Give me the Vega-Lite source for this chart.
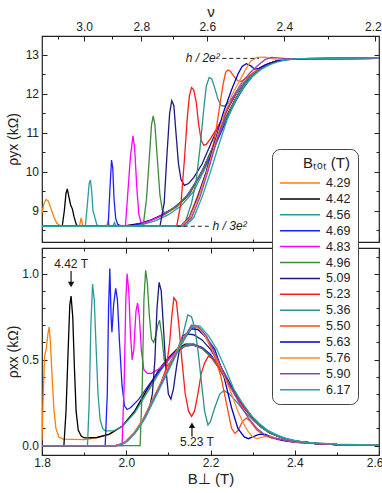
{
"$schema": "https://vega.github.io/schema/vega-lite/v6.json",
"padding": {"left": 5, "top": 3, "right": 0, "bottom": 3},
"background": "white",
"spacing": 2,
"datasets": {
"yx": [
{"t":"4.29","b":1.8,"v":8.95},{"t":"4.29","b":1.805,"v":9.2},{"t":"4.29","b":1.81,"v":9.29},{"t":"4.29","b":1.815,"v":9.25},{"t":"4.29","b":1.82,"v":9.1},{"t":"4.29","b":1.828,"v":8.85},{"t":"4.29","b":1.835,"v":8.68},{"t":"4.29","b":1.845,"v":8.61},{"t":"4.29","b":1.889,"v":8.61},{"t":"4.29","b":1.893,"v":8.82},{"t":"4.29","b":1.897,"v":8.61},{"t":"4.29","b":1.953,"v":8.61},{"t":"4.29","b":1.957,"v":8.72},{"t":"4.29","b":1.961,"v":8.6},{"t":"4.29","b":2.0,"v":8.62},{"t":"4.29","b":2.03,"v":8.66},{"t":"4.29","b":2.06,"v":8.76},{"t":"4.29","b":2.09,"v":8.9},{"t":"4.29","b":2.12,"v":9.1},{"t":"4.29","b":2.15,"v":9.42},{"t":"4.29","b":2.18,"v":9.98},{"t":"4.29","b":2.2,"v":10.45},{"t":"4.29","b":2.22,"v":10.95},{"t":"4.29","b":2.24,"v":11.42},{"t":"4.29","b":2.26,"v":11.85},{"t":"4.29","b":2.28,"v":12.2},{"t":"4.29","b":2.3,"v":12.47},{"t":"4.29","b":2.32,"v":12.65},{"t":"4.29","b":2.34,"v":12.77},{"t":"4.29","b":2.36,"v":12.84},{"t":"4.29","b":2.38,"v":12.88},{"t":"4.29","b":2.42,"v":12.9},{"t":"4.29","b":2.5,"v":12.9},{"t":"4.29","b":2.6,"v":12.91},
{"t":"4.42","b":1.8,"v":8.6},{"t":"4.42","b":1.848,"v":8.6},{"t":"4.42","b":1.853,"v":9.0},{"t":"4.42","b":1.857,"v":9.45},{"t":"4.42","b":1.86,"v":9.56},{"t":"4.42","b":1.864,"v":9.35},{"t":"4.42","b":1.868,"v":9.15},{"t":"4.42","b":1.872,"v":9.05},{"t":"4.42","b":1.876,"v":8.85},{"t":"4.42","b":1.882,"v":8.63},{"t":"4.42","b":1.89,"v":8.6},{"t":"4.42","b":1.95,"v":8.6},{"t":"4.42","b":2.0,"v":8.62},{"t":"4.42","b":2.03,"v":8.67},{"t":"4.42","b":2.06,"v":8.77},{"t":"4.42","b":2.09,"v":8.92},{"t":"4.42","b":2.12,"v":9.12},{"t":"4.42","b":2.15,"v":9.45},{"t":"4.42","b":2.18,"v":10.02},{"t":"4.42","b":2.2,"v":10.5},{"t":"4.42","b":2.22,"v":11.0},{"t":"4.42","b":2.24,"v":11.47},{"t":"4.42","b":2.26,"v":11.88},{"t":"4.42","b":2.28,"v":12.22},{"t":"4.42","b":2.3,"v":12.48},{"t":"4.42","b":2.32,"v":12.66},{"t":"4.42","b":2.34,"v":12.78},{"t":"4.42","b":2.36,"v":12.85},{"t":"4.42","b":2.38,"v":12.88},{"t":"4.42","b":2.42,"v":12.9},{"t":"4.42","b":2.5,"v":12.9},{"t":"4.42","b":2.6,"v":12.91},
{"t":"4.56","b":1.8,"v":8.6},{"t":"4.56","b":1.903,"v":8.6},{"t":"4.56","b":1.908,"v":9.2},{"t":"4.56","b":1.912,"v":9.7},{"t":"4.56","b":1.915,"v":9.79},{"t":"4.56","b":1.918,"v":9.5},{"t":"4.56","b":1.921,"v":9.0},{"t":"4.56","b":1.925,"v":8.85},{"t":"4.56","b":1.93,"v":8.65},{"t":"4.56","b":1.935,"v":8.6},{"t":"4.56","b":1.968,"v":8.6},{"t":"4.56","b":1.972,"v":8.7},{"t":"4.56","b":1.976,"v":8.6},{"t":"4.56","b":2.0,"v":8.6},{"t":"4.56","b":2.04,"v":8.65},{"t":"4.56","b":2.07,"v":8.75},{"t":"4.56","b":2.1,"v":8.9},{"t":"4.56","b":2.13,"v":9.12},{"t":"4.56","b":2.16,"v":9.5},{"t":"4.56","b":2.19,"v":10.15},{"t":"4.56","b":2.21,"v":10.65},{"t":"4.56","b":2.23,"v":11.15},{"t":"4.56","b":2.25,"v":11.62},{"t":"4.56","b":2.27,"v":12.02},{"t":"4.56","b":2.29,"v":12.33},{"t":"4.56","b":2.31,"v":12.57},{"t":"4.56","b":2.33,"v":12.72},{"t":"4.56","b":2.35,"v":12.81},{"t":"4.56","b":2.37,"v":12.86},{"t":"4.56","b":2.4,"v":12.89},{"t":"4.56","b":2.5,"v":12.9},{"t":"4.56","b":2.6,"v":12.91},
{"t":"4.69","b":1.8,"v":8.6},{"t":"4.69","b":1.957,"v":8.6},{"t":"4.69","b":1.961,"v":9.5},{"t":"4.69","b":1.965,"v":10.3},{"t":"4.69","b":1.968,"v":10.1},{"t":"4.69","b":1.971,"v":9.3},{"t":"4.69","b":1.975,"v":8.8},{"t":"4.69","b":1.98,"v":8.65},{"t":"4.69","b":1.99,"v":8.6},{"t":"4.69","b":2.02,"v":8.63},{"t":"4.69","b":2.05,"v":8.72},{"t":"4.69","b":2.08,"v":8.86},{"t":"4.69","b":2.11,"v":9.05},{"t":"4.69","b":2.14,"v":9.32},{"t":"4.69","b":2.17,"v":9.82},{"t":"4.69","b":2.2,"v":10.4},{"t":"4.69","b":2.22,"v":10.9},{"t":"4.69","b":2.24,"v":11.38},{"t":"4.69","b":2.26,"v":11.82},{"t":"4.69","b":2.28,"v":12.18},{"t":"4.69","b":2.3,"v":12.46},{"t":"4.69","b":2.32,"v":12.64},{"t":"4.69","b":2.34,"v":12.76},{"t":"4.69","b":2.36,"v":12.84},{"t":"4.69","b":2.38,"v":12.88},{"t":"4.69","b":2.42,"v":12.9},{"t":"4.69","b":2.6,"v":12.91},
{"t":"4.83","b":1.8,"v":8.6},{"t":"4.83","b":1.998,"v":8.6},{"t":"4.83","b":2.004,"v":9.5},{"t":"4.83","b":2.01,"v":10.4},{"t":"4.83","b":2.016,"v":10.92},{"t":"4.83","b":2.02,"v":10.6},{"t":"4.83","b":2.025,"v":9.6},{"t":"4.83","b":2.03,"v":8.9},{"t":"4.83","b":2.035,"v":8.7},{"t":"4.83","b":2.04,"v":8.68},{"t":"4.83","b":2.06,"v":8.76},{"t":"4.83","b":2.09,"v":8.9},{"t":"4.83","b":2.12,"v":9.12},{"t":"4.83","b":2.15,"v":9.46},{"t":"4.83","b":2.18,"v":10.0},{"t":"4.83","b":2.2,"v":10.47},{"t":"4.83","b":2.22,"v":10.97},{"t":"4.83","b":2.24,"v":11.44},{"t":"4.83","b":2.26,"v":11.86},{"t":"4.83","b":2.28,"v":12.21},{"t":"4.83","b":2.3,"v":12.47},{"t":"4.83","b":2.32,"v":12.65},{"t":"4.83","b":2.34,"v":12.77},{"t":"4.83","b":2.36,"v":12.84},{"t":"4.83","b":2.38,"v":12.88},{"t":"4.83","b":2.42,"v":12.9},{"t":"4.83","b":2.6,"v":12.91},
{"t":"4.96","b":1.8,"v":8.6},{"t":"4.96","b":2.04,"v":8.6},{"t":"4.96","b":2.048,"v":9.3},{"t":"4.96","b":2.055,"v":10.4},{"t":"4.96","b":2.06,"v":11.2},{"t":"4.96","b":2.064,"v":11.43},{"t":"4.96","b":2.068,"v":11.2},{"t":"4.96","b":2.074,"v":10.3},{"t":"4.96","b":2.08,"v":9.4},{"t":"4.96","b":2.086,"v":9.0},{"t":"4.96","b":2.09,"v":8.95},{"t":"4.96","b":2.1,"v":8.98},{"t":"4.96","b":2.12,"v":9.12},{"t":"4.96","b":2.15,"v":9.46},{"t":"4.96","b":2.18,"v":10.02},{"t":"4.96","b":2.2,"v":10.48},{"t":"4.96","b":2.22,"v":10.98},{"t":"4.96","b":2.24,"v":11.45},{"t":"4.96","b":2.26,"v":11.87},{"t":"4.96","b":2.28,"v":12.21},{"t":"4.96","b":2.3,"v":12.47},{"t":"4.96","b":2.32,"v":12.65},{"t":"4.96","b":2.34,"v":12.77},{"t":"4.96","b":2.36,"v":12.84},{"t":"4.96","b":2.38,"v":12.88},{"t":"4.96","b":2.42,"v":12.9},{"t":"4.96","b":2.6,"v":12.91},
{"t":"5.09","b":1.8,"v":8.6},{"t":"5.09","b":2.08,"v":8.6},{"t":"5.09","b":2.09,"v":9.2},{"t":"5.09","b":2.097,"v":10.5},{"t":"5.09","b":2.103,"v":11.5},{"t":"5.09","b":2.108,"v":11.82},{"t":"5.09","b":2.113,"v":11.7},{"t":"5.09","b":2.118,"v":11.0},{"t":"5.09","b":2.124,"v":10.2},{"t":"5.09","b":2.13,"v":9.8},{"t":"5.09","b":2.138,"v":9.65},{"t":"5.09","b":2.148,"v":9.7},{"t":"5.09","b":2.16,"v":9.85},{"t":"5.09","b":2.18,"v":10.2},{"t":"5.09","b":2.2,"v":10.7},{"t":"5.09","b":2.22,"v":11.2},{"t":"5.09","b":2.24,"v":11.6},{"t":"5.09","b":2.26,"v":11.98},{"t":"5.09","b":2.28,"v":12.28},{"t":"5.09","b":2.3,"v":12.5},{"t":"5.09","b":2.32,"v":12.67},{"t":"5.09","b":2.34,"v":12.78},{"t":"5.09","b":2.36,"v":12.85},{"t":"5.09","b":2.38,"v":12.88},{"t":"5.09","b":2.42,"v":12.9},{"t":"5.09","b":2.6,"v":12.91},
{"t":"5.23","b":1.8,"v":8.6},{"t":"5.23","b":2.12,"v":8.62},{"t":"5.23","b":2.13,"v":9.2},{"t":"5.23","b":2.138,"v":10.3},{"t":"5.23","b":2.145,"v":11.4},{"t":"5.23","b":2.15,"v":11.95},{"t":"5.23","b":2.155,"v":12.16},{"t":"5.23","b":2.16,"v":12.1},{"t":"5.23","b":2.166,"v":11.8},{"t":"5.23","b":2.172,"v":11.2},{"t":"5.23","b":2.178,"v":10.8},{"t":"5.23","b":2.184,"v":10.68},{"t":"5.23","b":2.19,"v":10.7},{"t":"5.23","b":2.2,"v":10.85},{"t":"5.23","b":2.22,"v":11.2},{"t":"5.23","b":2.24,"v":11.62},{"t":"5.23","b":2.26,"v":11.99},{"t":"5.23","b":2.28,"v":12.29},{"t":"5.23","b":2.3,"v":12.51},{"t":"5.23","b":2.32,"v":12.67},{"t":"5.23","b":2.34,"v":12.78},{"t":"5.23","b":2.36,"v":12.85},{"t":"5.23","b":2.38,"v":12.88},{"t":"5.23","b":2.42,"v":12.9},{"t":"5.23","b":2.6,"v":12.91},
{"t":"5.36","b":1.8,"v":8.6},{"t":"5.36","b":2.13,"v":8.62},{"t":"5.36","b":2.14,"v":8.7},{"t":"5.36","b":2.155,"v":9.2},{"t":"5.36","b":2.165,"v":9.7},{"t":"5.36","b":2.175,"v":10.6},{"t":"5.36","b":2.183,"v":11.5},{"t":"5.36","b":2.19,"v":12.2},{"t":"5.36","b":2.197,"v":12.42},{"t":"5.36","b":2.203,"v":12.38},{"t":"5.36","b":2.21,"v":12.15},{"t":"5.36","b":2.218,"v":11.85},{"t":"5.36","b":2.225,"v":11.7},{"t":"5.36","b":2.233,"v":11.68},{"t":"5.36","b":2.24,"v":11.75},{"t":"5.36","b":2.26,"v":12.0},{"t":"5.36","b":2.28,"v":12.28},{"t":"5.36","b":2.3,"v":12.5},{"t":"5.36","b":2.32,"v":12.67},{"t":"5.36","b":2.34,"v":12.78},{"t":"5.36","b":2.36,"v":12.85},{"t":"5.36","b":2.38,"v":12.88},{"t":"5.36","b":2.42,"v":12.9},{"t":"5.36","b":2.6,"v":12.91},
{"t":"5.50","b":1.8,"v":8.6},{"t":"5.50","b":2.13,"v":8.62},{"t":"5.50","b":2.15,"v":8.85},{"t":"5.50","b":2.17,"v":9.4},{"t":"5.50","b":2.19,"v":10.0},{"t":"5.50","b":2.2,"v":10.35},{"t":"5.50","b":2.213,"v":11.05},{"t":"5.50","b":2.222,"v":11.7},{"t":"5.50","b":2.23,"v":12.25},{"t":"5.50","b":2.236,"v":12.55},{"t":"5.50","b":2.241,"v":12.61},{"t":"5.50","b":2.247,"v":12.58},{"t":"5.50","b":2.255,"v":12.45},{"t":"5.50","b":2.265,"v":12.33},{"t":"5.50","b":2.273,"v":12.32},{"t":"5.50","b":2.285,"v":12.4},{"t":"5.50","b":2.3,"v":12.53},{"t":"5.50","b":2.32,"v":12.68},{"t":"5.50","b":2.34,"v":12.78},{"t":"5.50","b":2.36,"v":12.85},{"t":"5.50","b":2.38,"v":12.88},{"t":"5.50","b":2.42,"v":12.9},{"t":"5.50","b":2.6,"v":12.91},
{"t":"5.63","b":1.8,"v":8.6},{"t":"5.63","b":2.13,"v":8.61},{"t":"5.63","b":2.15,"v":8.82},{"t":"5.63","b":2.17,"v":9.35},{"t":"5.63","b":2.19,"v":10.0},{"t":"5.63","b":2.21,"v":10.75},{"t":"5.63","b":2.23,"v":11.5},{"t":"5.63","b":2.25,"v":12.1},{"t":"5.63","b":2.265,"v":12.5},{"t":"5.63","b":2.275,"v":12.7},{"t":"5.63","b":2.285,"v":12.77},{"t":"5.63","b":2.295,"v":12.72},{"t":"5.63","b":2.305,"v":12.63},{"t":"5.63","b":2.315,"v":12.65},{"t":"5.63","b":2.33,"v":12.74},{"t":"5.63","b":2.35,"v":12.82},{"t":"5.63","b":2.37,"v":12.87},{"t":"5.63","b":2.4,"v":12.89},{"t":"5.63","b":2.45,"v":12.9},{"t":"5.63","b":2.6,"v":12.91},
{"t":"5.76","b":1.8,"v":8.6},{"t":"5.76","b":2.13,"v":8.61},{"t":"5.76","b":2.15,"v":8.8},{"t":"5.76","b":2.17,"v":9.3},{"t":"5.76","b":2.19,"v":9.95},{"t":"5.76","b":2.21,"v":10.7},{"t":"5.76","b":2.23,"v":11.4},{"t":"5.76","b":2.25,"v":11.95},{"t":"5.76","b":2.27,"v":12.35},{"t":"5.76","b":2.285,"v":12.65},{"t":"5.76","b":2.296,"v":12.84},{"t":"5.76","b":2.31,"v":12.93},{"t":"5.76","b":2.33,"v":12.94},{"t":"5.76","b":2.345,"v":12.9},{"t":"5.76","b":2.36,"v":12.88},{"t":"5.76","b":2.4,"v":12.9},{"t":"5.76","b":2.5,"v":12.9},{"t":"5.76","b":2.6,"v":12.91},
{"t":"5.90","b":1.8,"v":8.6},{"t":"5.90","b":2.135,"v":8.61},{"t":"5.90","b":2.155,"v":8.82},{"t":"5.90","b":2.175,"v":9.35},{"t":"5.90","b":2.195,"v":10.05},{"t":"5.90","b":2.215,"v":10.8},{"t":"5.90","b":2.235,"v":11.45},{"t":"5.90","b":2.255,"v":11.95},{"t":"5.90","b":2.275,"v":12.3},{"t":"5.90","b":2.295,"v":12.55},{"t":"5.90","b":2.315,"v":12.75},{"t":"5.90","b":2.33,"v":12.88},{"t":"5.90","b":2.345,"v":12.93},{"t":"5.90","b":2.36,"v":12.92},{"t":"5.90","b":2.38,"v":12.9},{"t":"5.90","b":2.45,"v":12.9},{"t":"5.90","b":2.6,"v":12.91},
{"t":"6.17","b":1.8,"v":8.6},{"t":"6.17","b":2.14,"v":8.61},{"t":"6.17","b":2.16,"v":8.82},{"t":"6.17","b":2.18,"v":9.35},{"t":"6.17","b":2.2,"v":10.0},{"t":"6.17","b":2.22,"v":10.7},{"t":"6.17","b":2.24,"v":11.35},{"t":"6.17","b":2.26,"v":11.85},{"t":"6.17","b":2.28,"v":12.2},{"t":"6.17","b":2.3,"v":12.45},{"t":"6.17","b":2.32,"v":12.62},{"t":"6.17","b":2.34,"v":12.74},{"t":"6.17","b":2.36,"v":12.82},{"t":"6.17","b":2.38,"v":12.87},{"t":"6.17","b":2.41,"v":12.9},{"t":"6.17","b":2.5,"v":12.91},{"t":"6.17","b":2.6,"v":12.92}
],
"xx": [
{"t":"4.29","b":1.8,"v":0.03},{"t":"4.29","b":1.803,"v":0.3},{"t":"4.29","b":1.806,"v":0.52},{"t":"4.29","b":1.81,"v":0.56},{"t":"4.29","b":1.814,"v":0.65},{"t":"4.29","b":1.817,"v":0.69},{"t":"4.29","b":1.82,"v":0.6},{"t":"4.29","b":1.824,"v":0.4},{"t":"4.29","b":1.828,"v":0.22},{"t":"4.29","b":1.833,"v":0.1},{"t":"4.29","b":1.84,"v":0.05},{"t":"4.29","b":1.85,"v":0.037},{"t":"4.29","b":1.9,"v":0.035},{"t":"4.29","b":1.93,"v":0.045},{"t":"4.29","b":1.96,"v":0.065},{"t":"4.29","b":1.99,"v":0.11},{"t":"4.29","b":2.02,"v":0.2},{"t":"4.29","b":2.05,"v":0.32},{"t":"4.29","b":2.08,"v":0.44},{"t":"4.29","b":2.1,"v":0.5},{"t":"4.29","b":2.12,"v":0.55},{"t":"4.29","b":2.14,"v":0.58},{"t":"4.29","b":2.16,"v":0.585},{"t":"4.29","b":2.18,"v":0.565},{"t":"4.29","b":2.2,"v":0.52},{"t":"4.29","b":2.22,"v":0.45},{"t":"4.29","b":2.24,"v":0.37},{"t":"4.29","b":2.26,"v":0.29},{"t":"4.29","b":2.28,"v":0.22},{"t":"4.29","b":2.3,"v":0.16},{"t":"4.29","b":2.32,"v":0.11},{"t":"4.29","b":2.34,"v":0.075},{"t":"4.29","b":2.37,"v":0.045},{"t":"4.29","b":2.4,"v":0.025},{"t":"4.29","b":2.45,"v":0.012},{"t":"4.29","b":2.5,"v":0.006},{"t":"4.29","b":2.6,"v":0.003},
{"t":"4.42","b":1.8,"v":0.0},{"t":"4.42","b":1.852,"v":0.0},{"t":"4.42","b":1.857,"v":0.2},{"t":"4.42","b":1.862,"v":0.55},{"t":"4.42","b":1.866,"v":0.82},{"t":"4.42","b":1.869,"v":0.87},{"t":"4.42","b":1.873,"v":0.75},{"t":"4.42","b":1.877,"v":0.45},{"t":"4.42","b":1.881,"v":0.2},{"t":"4.42","b":1.886,"v":0.09},{"t":"4.42","b":1.893,"v":0.055},{"t":"4.42","b":1.9,"v":0.045},{"t":"4.42","b":1.93,"v":0.047},{"t":"4.42","b":1.96,"v":0.067},{"t":"4.42","b":1.99,"v":0.112},{"t":"4.42","b":2.02,"v":0.2},{"t":"4.42","b":2.05,"v":0.33},{"t":"4.42","b":2.08,"v":0.45},{"t":"4.42","b":2.1,"v":0.51},{"t":"4.42","b":2.12,"v":0.56},{"t":"4.42","b":2.14,"v":0.59},{"t":"4.42","b":2.16,"v":0.59},{"t":"4.42","b":2.18,"v":0.57},{"t":"4.42","b":2.2,"v":0.525},{"t":"4.42","b":2.22,"v":0.455},{"t":"4.42","b":2.24,"v":0.375},{"t":"4.42","b":2.26,"v":0.295},{"t":"4.42","b":2.28,"v":0.225},{"t":"4.42","b":2.3,"v":0.162},{"t":"4.42","b":2.32,"v":0.112},{"t":"4.42","b":2.34,"v":0.076},{"t":"4.42","b":2.37,"v":0.045},{"t":"4.42","b":2.4,"v":0.025},{"t":"4.42","b":2.45,"v":0.012},{"t":"4.42","b":2.5,"v":0.006},{"t":"4.42","b":2.6,"v":0.003},
{"t":"4.56","b":1.8,"v":0.0},{"t":"4.56","b":1.908,"v":0.0},{"t":"4.56","b":1.912,"v":0.25},{"t":"4.56","b":1.916,"v":0.7},{"t":"4.56","b":1.92,"v":0.94},{"t":"4.56","b":1.924,"v":0.85},{"t":"4.56","b":1.928,"v":0.6},{"t":"4.56","b":1.933,"v":0.3},{"t":"4.56","b":1.938,"v":0.15},{"t":"4.56","b":1.944,"v":0.1},{"t":"4.56","b":1.95,"v":0.085},{"t":"4.56","b":1.97,"v":0.085},{"t":"4.56","b":1.99,"v":0.11},{"t":"4.56","b":2.02,"v":0.19},{"t":"4.56","b":2.05,"v":0.31},{"t":"4.56","b":2.08,"v":0.43},{"t":"4.56","b":2.1,"v":0.5},{"t":"4.56","b":2.12,"v":0.555},{"t":"4.56","b":2.14,"v":0.585},{"t":"4.56","b":2.16,"v":0.59},{"t":"4.56","b":2.18,"v":0.57},{"t":"4.56","b":2.2,"v":0.53},{"t":"4.56","b":2.22,"v":0.46},{"t":"4.56","b":2.24,"v":0.38},{"t":"4.56","b":2.26,"v":0.3},{"t":"4.56","b":2.28,"v":0.23},{"t":"4.56","b":2.3,"v":0.165},{"t":"4.56","b":2.32,"v":0.115},{"t":"4.56","b":2.34,"v":0.08},{"t":"4.56","b":2.37,"v":0.047},{"t":"4.56","b":2.4,"v":0.027},{"t":"4.56","b":2.45,"v":0.012},{"t":"4.56","b":2.5,"v":0.006},{"t":"4.56","b":2.6,"v":0.003},
{"t":"4.69","b":1.8,"v":0.0},{"t":"4.69","b":1.95,"v":0.0},{"t":"4.69","b":1.955,"v":0.3},{"t":"4.69","b":1.958,"v":0.8},{"t":"4.69","b":1.961,"v":1.03},{"t":"4.69","b":1.964,"v":0.75},{"t":"4.69","b":1.966,"v":0.66},{"t":"4.69","b":1.97,"v":0.82},{"t":"4.69","b":1.975,"v":0.915},{"t":"4.69","b":1.979,"v":0.85},{"t":"4.69","b":1.984,"v":0.6},{"t":"4.69","b":1.99,"v":0.35},{"t":"4.69","b":1.996,"v":0.23},{"t":"4.69","b":2.002,"v":0.21},{"t":"4.69","b":2.01,"v":0.22},{"t":"4.69","b":2.03,"v":0.27},{"t":"4.69","b":2.05,"v":0.34},{"t":"4.69","b":2.08,"v":0.44},{"t":"4.69","b":2.1,"v":0.5},{"t":"4.69","b":2.12,"v":0.55},{"t":"4.69","b":2.14,"v":0.58},{"t":"4.69","b":2.16,"v":0.585},{"t":"4.69","b":2.18,"v":0.57},{"t":"4.69","b":2.2,"v":0.53},{"t":"4.69","b":2.22,"v":0.46},{"t":"4.69","b":2.24,"v":0.38},{"t":"4.69","b":2.26,"v":0.3},{"t":"4.69","b":2.28,"v":0.225},{"t":"4.69","b":2.3,"v":0.16},{"t":"4.69","b":2.32,"v":0.11},{"t":"4.69","b":2.34,"v":0.075},{"t":"4.69","b":2.37,"v":0.045},{"t":"4.69","b":2.4,"v":0.025},{"t":"4.69","b":2.45,"v":0.012},{"t":"4.69","b":2.5,"v":0.006},{"t":"4.69","b":2.6,"v":0.003},
{"t":"4.83","b":1.8,"v":0.0},{"t":"4.83","b":1.99,"v":0.0},{"t":"4.83","b":1.995,"v":0.35},{"t":"4.83","b":1.999,"v":0.85},{"t":"4.83","b":2.002,"v":1.0},{"t":"4.83","b":2.006,"v":0.9},{"t":"4.83","b":2.01,"v":0.65},{"t":"4.83","b":2.014,"v":0.5},{"t":"4.83","b":2.018,"v":0.56},{"t":"4.83","b":2.023,"v":0.78},{"t":"4.83","b":2.027,"v":0.83},{"t":"4.83","b":2.031,"v":0.75},{"t":"4.83","b":2.036,"v":0.55},{"t":"4.83","b":2.042,"v":0.44},{"t":"4.83","b":2.05,"v":0.42},{"t":"4.83","b":2.06,"v":0.42},{"t":"4.83","b":2.08,"v":0.45},{"t":"4.83","b":2.1,"v":0.5},{"t":"4.83","b":2.12,"v":0.55},{"t":"4.83","b":2.14,"v":0.58},{"t":"4.83","b":2.16,"v":0.585},{"t":"4.83","b":2.18,"v":0.565},{"t":"4.83","b":2.2,"v":0.52},{"t":"4.83","b":2.22,"v":0.45},{"t":"4.83","b":2.24,"v":0.37},{"t":"4.83","b":2.26,"v":0.29},{"t":"4.83","b":2.28,"v":0.22},{"t":"4.83","b":2.3,"v":0.16},{"t":"4.83","b":2.32,"v":0.11},{"t":"4.83","b":2.34,"v":0.075},{"t":"4.83","b":2.37,"v":0.045},{"t":"4.83","b":2.4,"v":0.025},{"t":"4.83","b":2.45,"v":0.012},{"t":"4.83","b":2.5,"v":0.006},{"t":"4.83","b":2.6,"v":0.003},
{"t":"4.96","b":1.8,"v":0.0},{"t":"4.96","b":2.033,"v":0.0},{"t":"4.96","b":2.038,"v":0.35},{"t":"4.96","b":2.042,"v":0.85},{"t":"4.96","b":2.046,"v":1.02},{"t":"4.96","b":2.05,"v":0.95},{"t":"4.96","b":2.055,"v":0.75},{"t":"4.96","b":2.06,"v":0.62},{"t":"4.96","b":2.065,"v":0.6},{"t":"4.96","b":2.07,"v":0.64},{"t":"4.96","b":2.075,"v":0.7},{"t":"4.96","b":2.079,"v":0.73},{"t":"4.96","b":2.084,"v":0.65},{"t":"4.96","b":2.09,"v":0.5},{"t":"4.96","b":2.096,"v":0.46},{"t":"4.96","b":2.1,"v":0.47},{"t":"4.96","b":2.12,"v":0.545},{"t":"4.96","b":2.14,"v":0.58},{"t":"4.96","b":2.16,"v":0.585},{"t":"4.96","b":2.18,"v":0.565},{"t":"4.96","b":2.2,"v":0.52},{"t":"4.96","b":2.22,"v":0.45},{"t":"4.96","b":2.24,"v":0.37},{"t":"4.96","b":2.26,"v":0.29},{"t":"4.96","b":2.28,"v":0.22},{"t":"4.96","b":2.3,"v":0.16},{"t":"4.96","b":2.32,"v":0.11},{"t":"4.96","b":2.34,"v":0.075},{"t":"4.96","b":2.37,"v":0.045},{"t":"4.96","b":2.4,"v":0.025},{"t":"4.96","b":2.45,"v":0.012},{"t":"4.96","b":2.5,"v":0.006},{"t":"4.96","b":2.6,"v":0.003},
{"t":"5.09","b":1.8,"v":0.0},{"t":"5.09","b":1.975,"v":0.0},{"t":"5.09","b":1.99,"v":0.01},{"t":"5.09","b":2.0,"v":0.025},{"t":"5.09","b":2.02,"v":0.075},{"t":"5.09","b":2.04,"v":0.15},{"t":"5.09","b":2.055,"v":0.22},{"t":"5.09","b":2.062,"v":0.3},{"t":"5.09","b":2.068,"v":0.5},{"t":"5.09","b":2.073,"v":0.8},{"t":"5.09","b":2.078,"v":0.95},{"t":"5.09","b":2.083,"v":0.9},{"t":"5.09","b":2.088,"v":0.7},{"t":"5.09","b":2.094,"v":0.45},{"t":"5.09","b":2.1,"v":0.3},{"t":"5.09","b":2.106,"v":0.27},{"t":"5.09","b":2.112,"v":0.33},{"t":"5.09","b":2.12,"v":0.47},{"t":"5.09","b":2.128,"v":0.58},{"t":"5.09","b":2.135,"v":0.64},{"t":"5.09","b":2.143,"v":0.65},{"t":"5.09","b":2.16,"v":0.645},{"t":"5.09","b":2.18,"v":0.615},{"t":"5.09","b":2.2,"v":0.56},{"t":"5.09","b":2.22,"v":0.48},{"t":"5.09","b":2.24,"v":0.39},{"t":"5.09","b":2.26,"v":0.3},{"t":"5.09","b":2.28,"v":0.22},{"t":"5.09","b":2.3,"v":0.16},{"t":"5.09","b":2.32,"v":0.11},{"t":"5.09","b":2.34,"v":0.075},{"t":"5.09","b":2.37,"v":0.045},{"t":"5.09","b":2.4,"v":0.027},{"t":"5.09","b":2.45,"v":0.012},{"t":"5.09","b":2.5,"v":0.006},{"t":"5.09","b":2.6,"v":0.003},
{"t":"5.23","b":1.8,"v":0.0},{"t":"5.23","b":1.975,"v":0.0},{"t":"5.23","b":1.99,"v":0.01},{"t":"5.23","b":2.0,"v":0.025},{"t":"5.23","b":2.02,"v":0.075},{"t":"5.23","b":2.04,"v":0.15},{"t":"5.23","b":2.06,"v":0.25},{"t":"5.23","b":2.08,"v":0.35},{"t":"5.23","b":2.095,"v":0.45},{"t":"5.23","b":2.103,"v":0.6},{"t":"5.23","b":2.108,"v":0.75},{"t":"5.23","b":2.113,"v":0.86},{"t":"5.23","b":2.119,"v":0.84},{"t":"5.23","b":2.125,"v":0.7},{"t":"5.23","b":2.132,"v":0.5},{"t":"5.23","b":2.14,"v":0.3},{"t":"5.23","b":2.148,"v":0.2},{"t":"5.23","b":2.155,"v":0.17},{"t":"5.23","b":2.162,"v":0.2},{"t":"5.23","b":2.17,"v":0.3},{"t":"5.23","b":2.178,"v":0.42},{"t":"5.23","b":2.186,"v":0.48},{"t":"5.23","b":2.195,"v":0.52},{"t":"5.23","b":2.21,"v":0.5},{"t":"5.23","b":2.225,"v":0.44},{"t":"5.23","b":2.24,"v":0.37},{"t":"5.23","b":2.26,"v":0.29},{"t":"5.23","b":2.28,"v":0.22},{"t":"5.23","b":2.3,"v":0.16},{"t":"5.23","b":2.32,"v":0.11},{"t":"5.23","b":2.34,"v":0.075},{"t":"5.23","b":2.37,"v":0.045},{"t":"5.23","b":2.4,"v":0.026},{"t":"5.23","b":2.45,"v":0.012},{"t":"5.23","b":2.5,"v":0.006},{"t":"5.23","b":2.6,"v":0.003},
{"t":"5.36","b":1.8,"v":0.0},{"t":"5.36","b":1.975,"v":0.0},{"t":"5.36","b":1.99,"v":0.01},{"t":"5.36","b":2.0,"v":0.025},{"t":"5.36","b":2.02,"v":0.075},{"t":"5.36","b":2.04,"v":0.15},{"t":"5.36","b":2.06,"v":0.25},{"t":"5.36","b":2.08,"v":0.35},{"t":"5.36","b":2.1,"v":0.45},{"t":"5.36","b":2.12,"v":0.55},{"t":"5.36","b":2.135,"v":0.65},{"t":"5.36","b":2.146,"v":0.76},{"t":"5.36","b":2.155,"v":0.75},{"t":"5.36","b":2.163,"v":0.68},{"t":"5.36","b":2.17,"v":0.56},{"t":"5.36","b":2.178,"v":0.38},{"t":"5.36","b":2.186,"v":0.2},{"t":"5.36","b":2.194,"v":0.12},{"t":"5.36","b":2.2,"v":0.14},{"t":"5.36","b":2.21,"v":0.22},{"t":"5.36","b":2.222,"v":0.3},{"t":"5.36","b":2.232,"v":0.32},{"t":"5.36","b":2.245,"v":0.3},{"t":"5.36","b":2.26,"v":0.26},{"t":"5.36","b":2.28,"v":0.2},{"t":"5.36","b":2.3,"v":0.15},{"t":"5.36","b":2.32,"v":0.105},{"t":"5.36","b":2.34,"v":0.075},{"t":"5.36","b":2.37,"v":0.045},{"t":"5.36","b":2.4,"v":0.027},{"t":"5.36","b":2.45,"v":0.012},{"t":"5.36","b":2.5,"v":0.006},{"t":"5.36","b":2.6,"v":0.003},
{"t":"5.50","b":1.8,"v":0.0},{"t":"5.50","b":1.975,"v":0.0},{"t":"5.50","b":1.99,"v":0.01},{"t":"5.50","b":2.0,"v":0.025},{"t":"5.50","b":2.02,"v":0.078},{"t":"5.50","b":2.04,"v":0.155},{"t":"5.50","b":2.06,"v":0.255},{"t":"5.50","b":2.08,"v":0.355},{"t":"5.50","b":2.1,"v":0.455},{"t":"5.50","b":2.12,"v":0.555},{"t":"5.50","b":2.14,"v":0.635},{"t":"5.50","b":2.155,"v":0.69},{"t":"5.50","b":2.17,"v":0.685},{"t":"5.50","b":2.19,"v":0.625},{"t":"5.50","b":2.21,"v":0.52},{"t":"5.50","b":2.225,"v":0.4},{"t":"5.50","b":2.24,"v":0.22},{"t":"5.50","b":2.25,"v":0.1},{"t":"5.50","b":2.258,"v":0.07},{"t":"5.50","b":2.266,"v":0.09},{"t":"5.50","b":2.276,"v":0.14},{"t":"5.50","b":2.285,"v":0.16},{"t":"5.50","b":2.295,"v":0.14},{"t":"5.50","b":2.31,"v":0.09},{"t":"5.50","b":2.33,"v":0.055},{"t":"5.50","b":2.36,"v":0.035},{"t":"5.50","b":2.4,"v":0.02},{"t":"5.50","b":2.5,"v":0.006},{"t":"5.50","b":2.6,"v":0.003},
{"t":"5.63","b":1.8,"v":0.0},{"t":"5.63","b":1.975,"v":0.0},{"t":"5.63","b":1.99,"v":0.01},{"t":"5.63","b":2.0,"v":0.025},{"t":"5.63","b":2.02,"v":0.072},{"t":"5.63","b":2.04,"v":0.145},{"t":"5.63","b":2.06,"v":0.245},{"t":"5.63","b":2.08,"v":0.345},{"t":"5.63","b":2.1,"v":0.445},{"t":"5.63","b":2.12,"v":0.545},{"t":"5.63","b":2.14,"v":0.63},{"t":"5.63","b":2.155,"v":0.68},{"t":"5.63","b":2.17,"v":0.675},{"t":"5.63","b":2.19,"v":0.63},{"t":"5.63","b":2.21,"v":0.56},{"t":"5.63","b":2.23,"v":0.42},{"t":"5.63","b":2.25,"v":0.22},{"t":"5.63","b":2.265,"v":0.1},{"t":"5.63","b":2.28,"v":0.05},{"t":"5.63","b":2.29,"v":0.04},{"t":"5.63","b":2.3,"v":0.05},{"t":"5.63","b":2.315,"v":0.065},{"t":"5.63","b":2.33,"v":0.065},{"t":"5.63","b":2.345,"v":0.05},{"t":"5.63","b":2.37,"v":0.03},{"t":"5.63","b":2.4,"v":0.018},{"t":"5.63","b":2.5,"v":0.006},{"t":"5.63","b":2.6,"v":0.003},
{"t":"5.76","b":1.8,"v":0.0},{"t":"5.76","b":1.975,"v":0.0},{"t":"5.76","b":1.99,"v":0.01},{"t":"5.76","b":2.0,"v":0.026},{"t":"5.76","b":2.02,"v":0.076},{"t":"5.76","b":2.04,"v":0.152},{"t":"5.76","b":2.06,"v":0.252},{"t":"5.76","b":2.08,"v":0.352},{"t":"5.76","b":2.1,"v":0.452},{"t":"5.76","b":2.12,"v":0.552},{"t":"5.76","b":2.14,"v":0.64},{"t":"5.76","b":2.155,"v":0.7},{"t":"5.76","b":2.17,"v":0.69},{"t":"5.76","b":2.19,"v":0.63},{"t":"5.76","b":2.21,"v":0.53},{"t":"5.76","b":2.23,"v":0.42},{"t":"5.76","b":2.25,"v":0.3},{"t":"5.76","b":2.265,"v":0.2},{"t":"5.76","b":2.28,"v":0.12},{"t":"5.76","b":2.29,"v":0.08},{"t":"5.76","b":2.3,"v":0.05},{"t":"5.76","b":2.31,"v":0.04},{"t":"5.76","b":2.325,"v":0.05},{"t":"5.76","b":2.34,"v":0.055},{"t":"5.76","b":2.36,"v":0.04},{"t":"5.76","b":2.4,"v":0.02},{"t":"5.76","b":2.5,"v":0.006},{"t":"5.76","b":2.6,"v":0.003},
{"t":"5.90","b":1.8,"v":0.0},{"t":"5.90","b":1.978,"v":0.0},{"t":"5.90","b":1.99,"v":0.008},{"t":"5.90","b":2.0,"v":0.022},{"t":"5.90","b":2.02,"v":0.07},{"t":"5.90","b":2.04,"v":0.145},{"t":"5.90","b":2.06,"v":0.245},{"t":"5.90","b":2.08,"v":0.345},{"t":"5.90","b":2.1,"v":0.445},{"t":"5.90","b":2.12,"v":0.545},{"t":"5.90","b":2.14,"v":0.635},{"t":"5.90","b":2.155,"v":0.7},{"t":"5.90","b":2.17,"v":0.695},{"t":"5.90","b":2.19,"v":0.64},{"t":"5.90","b":2.21,"v":0.54},{"t":"5.90","b":2.23,"v":0.43},{"t":"5.90","b":2.25,"v":0.33},{"t":"5.90","b":2.27,"v":0.24},{"t":"5.90","b":2.29,"v":0.16},{"t":"5.90","b":2.31,"v":0.1},{"t":"5.90","b":2.33,"v":0.06},{"t":"5.90","b":2.345,"v":0.045},{"t":"5.90","b":2.36,"v":0.04},{"t":"5.90","b":2.38,"v":0.03},{"t":"5.90","b":2.42,"v":0.015},{"t":"5.90","b":2.5,"v":0.006},{"t":"5.90","b":2.6,"v":0.003},
{"t":"6.17","b":1.8,"v":0.0},{"t":"6.17","b":1.98,"v":0.0},{"t":"6.17","b":1.995,"v":0.012},{"t":"6.17","b":2.005,"v":0.03},{"t":"6.17","b":2.025,"v":0.085},{"t":"6.17","b":2.045,"v":0.16},{"t":"6.17","b":2.065,"v":0.26},{"t":"6.17","b":2.085,"v":0.36},{"t":"6.17","b":2.105,"v":0.46},{"t":"6.17","b":2.125,"v":0.56},{"t":"6.17","b":2.145,"v":0.65},{"t":"6.17","b":2.16,"v":0.7},{"t":"6.17","b":2.175,"v":0.695},{"t":"6.17","b":2.195,"v":0.64},{"t":"6.17","b":2.215,"v":0.56},{"t":"6.17","b":2.235,"v":0.45},{"t":"6.17","b":2.255,"v":0.33},{"t":"6.17","b":2.275,"v":0.25},{"t":"6.17","b":2.295,"v":0.18},{"t":"6.17","b":2.315,"v":0.13},{"t":"6.17","b":2.335,"v":0.09},{"t":"6.17","b":2.355,"v":0.065},{"t":"6.17","b":2.38,"v":0.04},{"t":"6.17","b":2.42,"v":0.02},{"t":"6.17","b":2.5,"v":0.008},{"t":"6.17","b":2.6,"v":0.003}
],
"hl": [{"b": 2.228, "b2": 2.315, "v": 12.906}, {"b": 2.12, "b2": 2.2, "v": 8.604}],
"t2": [{"b": 2.222, "v": 12.906, "txt": "h / 2e²"}],
"t3": [{"b": 2.205, "v": 8.604, "txt": "h / 3e²"}],
"lbl": [{"b": 1.869, "v": 1.057, "txt": "4.42 T"}, {"b": 2.168, "v": 0.02, "txt": "5.23 T"}],
"arr": [{"b": 1.869, "v": 1.016, "v2": 0.94}, {"b": 2.156, "v": 0.053, "v2": 0.12}],
"hd": [{"b": 1.869, "v": 0.937}],
"hu": [{"b": 2.156, "v": 0.118}]
},
"vconcat": [
{
"width": 337, "height": 206,
"layer": [
{"data": {"name": "yx"}, "mark": {"type": "line", "strokeWidth": 1.3, "clip": true},
 "encoding": {
  "x": {"field": "b", "type": "quantitative", "scale": {"domain": [1.8, 2.6], "nice": false, "zero": false},
        "axis": {"orient": "bottom", "values": [1.8, 2.0, 2.2, 2.4, 2.6], "labels": false, "tickSize": -5, "title": null}},
  "y": {"field": "v", "type": "quantitative", "scale": {"domain": [8.2, 13.48], "nice": false, "zero": false},
        "axis": {"orient": "left", "values": [9, 10, 11, 12, 13], "tickSize": -5, "labelPadding": 8.5, "title": "ρyx (kΩ)", "titleX": -29, "titleBaseline": "middle"}},
  "color": {"field": "t", "type": "nominal",
    "scale": {"domain": ["4.29","4.42","4.56","4.69","4.83","4.96","5.09","5.23","5.36","5.50","5.63","5.76","5.90","6.17"],
              "range": ["#ff7f00","#000000","#2a9a9a","#1e1eff","#ff00ff","#3c8c3c","#1a1a80","#ff1a1a","#2f8f8f","#ff4a10","#0000c8","#ff8c2a","#9b40b0","#20a8a0"]},
    "legend": {"title": "Bₜₒₜ (T)", "legendX": 230, "legendY": 113}}
 }},
{"data": {"name": "hl"}, "mark": {"type": "rule", "strokeDash": [4, 3], "color": "#222", "strokeWidth": 1},
 "encoding": {
  "x": {"field": "b", "type": "quantitative", "scale": {"domain": [1.8, 2.6], "nice": false, "zero": false},
        "axis": {"orient": "bottom", "values": [1.9, 2.1, 2.3, 2.5], "labels": false, "tickSize": -3, "title": null}},
  "x2": {"field": "b2"},
  "y": {"field": "v", "type": "quantitative", "scale": {"domain": [8.2, 13.48], "nice": false, "zero": false},
        "axis": {"orient": "left", "values": [8.5, 9.5, 10.5, 11.5, 12.5], "labels": false, "tickSize": -3, "title": null}}
 }},
{"data": {"name": "t2"}, "mark": {"type": "text", "align": "right", "baseline": "middle", "fontStyle": "italic", "fontSize": 12, "color": "#222"},
 "encoding": {
  "x": {"field": "b", "type": "quantitative", "scale": {"domain": [1.8, 2.6], "nice": false, "zero": false},
        "axis": {"orient": "top", "values": [1.9, 2.035714, 2.192308, 2.375, 2.590909], "tickSize": -5, "labelPadding": 8, "labelExpr": "format(5.7/datum.value, '.1f')", "title": "ν", "titlePadding": 1, "titleFontSize": 15,
                 "labelAlign": {"condition": {"test": "datum.value > 2.58", "value": "right"}, "value": "center"},
                 "labelOffset": {"condition": {"test": "datum.value > 2.58", "value": 6}, "value": 0}}},
  "y": {"field": "v", "type": "quantitative", "scale": {"domain": [8.2, 13.48], "nice": false, "zero": false},
        "axis": {"orient": "right", "values": [9, 10, 11, 12, 13], "labels": false, "tickSize": -5, "title": null}},
  "text": {"field": "txt"}
 }},
{"data": {"name": "t3"}, "mark": {"type": "text", "align": "left", "baseline": "middle", "fontStyle": "italic", "fontSize": 12, "color": "#222"},
 "encoding": {
  "x": {"field": "b", "type": "quantitative", "scale": {"domain": [1.8, 2.6], "nice": false, "zero": false},
        "axis": {"orient": "top", "values": [1.83871, 1.965517, 2.111111, 2.28, 2.478261], "labels": false, "tickSize": -3, "title": null}},
  "y": {"field": "v", "type": "quantitative", "scale": {"domain": [8.2, 13.48], "nice": false, "zero": false},
        "axis": {"orient": "right", "values": [8.5, 9.5, 10.5, 11.5, 12.5], "labels": false, "tickSize": -3, "title": null}},
  "text": {"field": "txt"}
 }}
],
"resolve": {"axis": {"x": "independent", "y": "independent"}}
},
{
"width": 337, "height": 207,
"layer": [
{"data": {"name": "xx"}, "mark": {"type": "line", "strokeWidth": 1.3, "clip": true},
 "encoding": {
  "x": {"field": "b", "type": "quantitative", "scale": {"domain": [1.8, 2.6], "nice": false, "zero": false},
        "axis": {"orient": "bottom", "values": [1.8, 2.0, 2.2, 2.4, 2.6], "format": ".1f", "tickSize": -5, "labelPadding": 7.5, "title": "B⊥ (T)", "titlePadding": 3, "titleFontSize": 15,
                 "labelAlign": {"condition": {"test": "datum.value > 2.59", "value": "right"}, "value": "center"},
                 "labelOffset": {"condition": {"test": "datum.value > 2.59", "value": 4}, "value": 0}}},
  "y": {"field": "v", "type": "quantitative", "scale": {"domain": [-0.055, 1.15], "nice": false, "zero": false},
        "axis": {"orient": "left", "values": [0, 0.5, 1.0], "format": ".1f", "tickSize": -5, "labelPadding": 8.5, "title": "ρxx (kΩ)", "titleX": -29, "titleBaseline": "middle"}},
  "color": {"field": "t", "type": "nominal",
    "scale": {"domain": ["4.29","4.42","4.56","4.69","4.83","4.96","5.09","5.23","5.36","5.50","5.63","5.76","5.90","6.17"],
              "range": ["#ff7f00","#000000","#2a9a9a","#1e1eff","#ff00ff","#3c8c3c","#1a1a80","#ff1a1a","#2f8f8f","#ff4a10","#0000c8","#ff8c2a","#9b40b0","#20a8a0"]},
    "legend": {"title": "Bₜₒₜ (T)", "legendX": 230, "legendY": 113}}
 }},
{"data": {"name": "lbl"}, "mark": {"type": "text", "align": "center", "baseline": "middle", "fontSize": 12, "color": "#222"},
 "encoding": {
  "x": {"field": "b", "type": "quantitative", "scale": {"domain": [1.8, 2.6], "nice": false, "zero": false},
        "axis": {"orient": "bottom", "values": [1.9, 2.1, 2.3, 2.5], "labels": false, "tickSize": -3, "title": null}},
  "y": {"field": "v", "type": "quantitative", "scale": {"domain": [-0.055, 1.15], "nice": false, "zero": false},
        "axis": {"orient": "left", "values": [0.1, 0.2, 0.3, 0.4, 0.6, 0.7, 0.8, 0.9, 1.1], "labels": false, "tickSize": -3, "title": null}},
  "text": {"field": "txt"}
 }},
{"data": {"name": "arr"}, "mark": {"type": "rule", "color": "#111", "strokeWidth": 1.2},
 "encoding": {
  "x": {"field": "b", "type": "quantitative", "scale": {"domain": [1.8, 2.6], "nice": false, "zero": false},
        "axis": {"orient": "top", "values": [1.8, 2.0, 2.2, 2.4, 2.6], "labels": false, "tickSize": -5, "title": null}},
  "y": {"field": "v", "type": "quantitative", "scale": {"domain": [-0.055, 1.15], "nice": false, "zero": false},
        "axis": {"orient": "right", "values": [0, 0.5, 1.0], "labels": false, "tickSize": -5, "title": null}},
  "y2": {"field": "v2"}
 }},
{"data": {"name": "hd"}, "mark": {"type": "point", "shape": "triangle-down", "filled": true, "size": 40, "color": "#111", "opacity": 1},
 "encoding": {
  "x": {"field": "b", "type": "quantitative", "scale": {"domain": [1.8, 2.6], "nice": false, "zero": false},
        "axis": {"orient": "top", "values": [1.9, 2.1, 2.3, 2.5], "labels": false, "tickSize": -3, "title": null}},
  "y": {"field": "v", "type": "quantitative", "scale": {"domain": [-0.055, 1.15], "nice": false, "zero": false},
        "axis": {"orient": "right", "values": [0.1, 0.2, 0.3, 0.4, 0.6, 0.7, 0.8, 0.9, 1.1], "labels": false, "tickSize": -3, "title": null}}
 }},
{"data": {"name": "hu"}, "mark": {"type": "point", "shape": "triangle-up", "filled": true, "size": 40, "color": "#111", "opacity": 1},
 "encoding": {
  "x": {"field": "b", "type": "quantitative", "scale": {"domain": [1.8, 2.6], "nice": false, "zero": false}, "axis": null},
  "y": {"field": "v", "type": "quantitative", "scale": {"domain": [-0.055, 1.15], "nice": false, "zero": false}, "axis": null}
 }}
],
"resolve": {"axis": {"x": "independent", "y": "independent"}}
}
],
"resolve": {"scale": {"color": "shared"}, "legend": {"color": "shared"}},
"config": {
 "view": {"stroke": "#222", "strokeWidth": 1.2},
 "axis": {"domain": false, "grid": false, "labelFont": "Liberation Sans", "labelFontSize": 12, "labelColor": "#222",
          "titleFont": "Liberation Sans", "titleFontWeight": "normal", "titleFontSize": 14, "titleColor": "#222",
          "tickColor": "#222", "tickWidth": 1, "labelFlush": false, "labelOverlap": false},
 "legend": {"orient": "none", "titleFont": "Liberation Sans", "titleFontSize": 15, "titleFontWeight": "normal",
            "titleColor": "#222", "titleAnchor": "end", "titlePadding": 5, "labelFont": "Liberation Sans", "labelFontSize": 12.5,
            "labelColor": "#222", "symbolType": "stroke", "symbolSize": 1600, "symbolStrokeWidth": 1.5, "clipHeight": 14,
            "rowPadding": 1.9, "labelOffset": 5, "padding": 7, "fillColor": "white", "strokeColor": "#444", "cornerRadius": 8},
 "text": {"font": "Liberation Sans"}
}
}
